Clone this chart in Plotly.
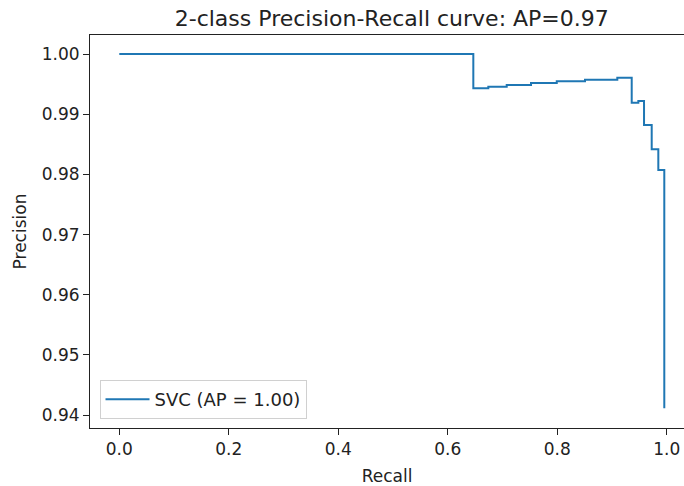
import plotly.graph_objects as go

recall = [0.0, 0.6466, 0.674, 0.7076, 0.752, 0.799, 0.8506, 0.9096,
          0.9359, 0.948, 0.9584, 0.9724, 0.9845, 0.9954]
precision = [1.0, 0.9943, 0.99457, 0.99485, 0.99518, 0.99547, 0.99573, 0.99606,
             0.99191, 0.99219, 0.98821, 0.98417, 0.98073, 0.94115]
x_ticks = [0.0, 0.2, 0.4, 0.6, 0.8, 1.0]
x_tick_labels = ["0.0", "0.2", "0.4", "0.6", "0.8", "1.0"]
y_ticks = [0.94, 0.95, 0.96, 0.97, 0.98, 0.99, 1.00]
y_tick_labels = ["0.94", "0.95", "0.96", "0.97", "0.98", "0.99", "1.00"]

FONT = "DejaVu Sans"
W, H = 684, 486

fig = go.Figure()
fig.add_trace(go.Scatter(
    x=recall, y=precision, mode="lines", line_shape="hv",
    line=dict(color="#1f77b4", width=2),
    name="SVC (AP = 1.00)",
))

fig.update_layout(
    width=W, height=H,
    margin=dict(l=90, r=0, t=35, b=58),
    paper_bgcolor="white", plot_bgcolor="white",
    font=dict(family=FONT, size=17, color="#222"),
    title=dict(text="2-class Precision-Recall curve: AP=0.97",
               font=dict(family=FONT, size=22, color="#222"),
               xref="paper", x=0.508, xanchor="center",
               yref="container", y=1 - 18.5 / H, yanchor="middle"),
    showlegend=True,
    legend=dict(x=0.016, y=0.023, xanchor="left", yanchor="bottom",
                itemwidth=44,
                bgcolor="rgba(255,255,255,0.8)", bordercolor="#d0d0d0",
                borderwidth=1, font=dict(family=FONT, size=18, color="#222")),
)

fig.update_xaxes(
    range=[-0.0535, 1.0314], tickvals=x_ticks, ticktext=x_tick_labels,
    showgrid=False, zeroline=False, showline=True, linecolor="#222",
    linewidth=1, mirror=True, ticks="outside", ticklen=6, tickcolor="#222",
    title=dict(text="Recall", standoff=12, font=dict(family=FONT, size=17)),
)
fig.update_yaxes(
    range=[0.93787, 1.00316], tickvals=y_ticks, ticktext=y_tick_labels,
    showgrid=False, zeroline=False, showline=True, linecolor="#222",
    linewidth=1, mirror=False, ticks="outside", ticklen=6, tickcolor="#222",
    title=dict(text="Precision", standoff=10, font=dict(family=FONT, size=17)),
)

fig.write_html("out.html",
               config={"displayModeBar": False},
               post_script="document.body.style.margin='0';"
                           "document.body.style.overflow='hidden';")
